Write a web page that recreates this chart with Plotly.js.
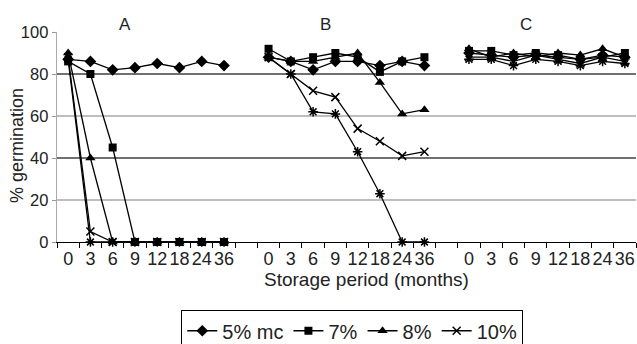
<!DOCTYPE html>
<html>
<head>
<meta charset="utf-8">
<script src="https://cdn.plot.ly/plotly-3.0.1.min.js"></script>
<style>html,body{margin:0;padding:0;background:#fff;}#chart{width:637px;height:344px;}</style>
</head>
<body>
<div id="chart"></div>
<script>
// Categories (storage period, months) and panels
const months = ['0', '3', '6', '9', '12', '18', '24', '36'];
const panels = ['A', 'B', 'C'];
const seriesNames = ['5% mc', '7%', '8%', '10%', '12%'];

// % germination, panel A
const mc5_A  = [87, 86, 82, 83, 85, 83, 86, 84];
const mc7_A  = [86, 80, 45, 0, 0, 0, 0, 0];
const mc8_A  = [90, 40, 0, 0, 0, 0, 0, 0];
const mc10_A = [88, 5, 0, 0, 0, 0, 0, 0];
const mc12_A = [87, 0, 0, 0, 0, 0, 0, 0];

// panel B
const mc5_B  = [88, 86, 82, 86, 86, 84, 86, 84];
const mc7_B  = [92, 86, 88, 90, 88, 81, 86, 88];
const mc8_B  = [88, 86, 86, 88, 90, 76, 61, 63];
const mc10_B = [88, 80, 72, 69, 54, 48, 41, 43];
const mc12_B = [88, 80, 62, 61, 43, 23, 0, 0];

// panel C
const mc5_C  = [90, 89, 88, 89, 88, 87, 89, 88];
const mc7_C  = [91, 91, 89, 90, 89, 87, 88, 90];
const mc8_C  = [92, 88, 90, 88, 90, 89, 92, 88];
const mc10_C = [88, 88, 86, 89, 87, 85, 88, 86];
const mc12_C = [87, 87, 84, 87, 86, 84, 86, 85];

const gridVals = [20, 40, 60, 80];
const yTicks = [0, 20, 40, 60, 80, 100];

const bySeries = [
  [mc5_A, mc5_B, mc5_C],
  [mc7_A, mc7_B, mc7_C],
  [mc8_A, mc8_B, mc8_C],
  [mc10_A, mc10_B, mc10_C],
  [mc12_A, mc12_B, mc12_C]
];

const stride = months.length + 1; // one blank category between panels
function buildXY(parts) {
  const x = [], y = [];
  parts.forEach((arr, p) => {
    arr.forEach((v, i) => { x.push(p * stride + i); y.push(v); });
    if (p < parts.length - 1) { x.push(p * stride + months.length); y.push(null); }
  });
  return {x, y};
}

const markerStyles = [
  {symbol: 'diamond', size: 9, color: '#000'},
  {symbol: 'square', size: 8, color: '#000'},
  {symbol: 'triangle-up', size: 9, color: '#000'},
  {symbol: 'x-thin-open', size: 8, color: '#000', line: {color: '#000', width: 1.5}},
  {symbol: 'asterisk-open', size: 8, color: '#000', line: {color: '#000', width: 1.5}}
];

const traces = bySeries.map((parts, k) => {
  const xy = buildXY(parts);
  return {
    type: 'scatter', mode: 'lines+markers',
    x: xy.x, y: xy.y, name: seriesNames[k],
    connectgaps: false, cliponaxis: false,
    line: {color: '#000', width: 1.3},
    marker: markerStyles[k],
    showlegend: k < 4
  };
});

const tickvals = [], ticktext = [];
panels.forEach((p, pi) => months.forEach((m, i) => { tickvals.push(pi * stride + i); ticktext.push(m); }));
const nCats = panels.length * stride - 1;

const shapes = gridVals.map(v => ({
  type: 'line', xref: 'paper', yref: 'y', x0: 0, x1: 1, y0: v, y1: v, layer: 'below',
  line: {color: (v === 40 || v === 80) ? '#707070' : '#a8a8a8', width: (v === 40 || v === 80) ? 2 : 1.3}
}));

const annotations = panels.map((p, pi) => ({
  text: p, xref: 'x', yref: 'paper', x: pi * stride + 2.55, y: 1.035,
  showarrow: false, xanchor: 'center', yanchor: 'middle',
  font: {family: 'Liberation Sans, Arial, sans-serif', size: 17, color: '#222'}
}));
annotations.push({
  text: 'Storage period (months)', xref: 'paper', yref: 'paper', x: 0.535, y: -0.178,
  showarrow: false, xanchor: 'center', yanchor: 'middle',
  font: {family: 'Liberation Sans, Arial, sans-serif', size: 19, color: '#222'}
});
annotations.push({
  text: '% germination', xref: 'paper', yref: 'paper', x: -0.068, y: 0.46, textangle: -90,
  showarrow: false, xanchor: 'center', yanchor: 'middle',
  font: {family: 'Liberation Sans, Arial, sans-serif', size: 18, color: '#222'}
});

const layout = {
  width: 637, height: 344,
  margin: {l: 57, r: 1, t: 32, b: 102, pad: 0, autoexpand: false},
  paper_bgcolor: '#fff', plot_bgcolor: '#fff',
  showlegend: true,
  xaxis: {
    range: [-0.5, nCats - 0.5], tickmode: 'array', tickvals: tickvals, ticktext: ticktext,
    tickangle: 0, automargin: false,
    ticks: '', showgrid: false, zeroline: false, showline: true, linecolor: '#000', linewidth: 1.3,
    tickfont: {family: 'Liberation Sans Narrow, Arial Narrow, sans-serif', size: 18, color: '#222'},
    minor: {tickmode: 'linear', tick0: -0.5, dtick: 1, ticks: 'outside', ticklen: 5, tickcolor: '#000', tickwidth: 1, showgrid: false},
    fixedrange: true
  },
  yaxis: {
    range: [0, 100], tickmode: 'array', tickvals: yTicks, ticks: 'outside', ticklen: 4, tickcolor: '#999',
    showgrid: false, zeroline: false, showline: true, linecolor: '#aaa', linewidth: 1.3, automargin: false,
    tickfont: {family: 'Liberation Sans, Arial, sans-serif', size: 16.5, color: '#222'},
    fixedrange: true
  },
  legend: {
    orientation: 'h', x: 0.51, xanchor: 'center', y: -0.325, yanchor: 'top',
    bordercolor: '#000', borderwidth: 1, bgcolor: '#fff',
    font: {family: 'Liberation Sans, Arial, sans-serif', size: 20, color: '#222'},
    itemwidth: 30
  },
  shapes: shapes,
  annotations: annotations
};

Plotly.newPlot('chart', traces, layout, {displayModeBar: false, staticPlot: true});
</script>
</body>
</html>
